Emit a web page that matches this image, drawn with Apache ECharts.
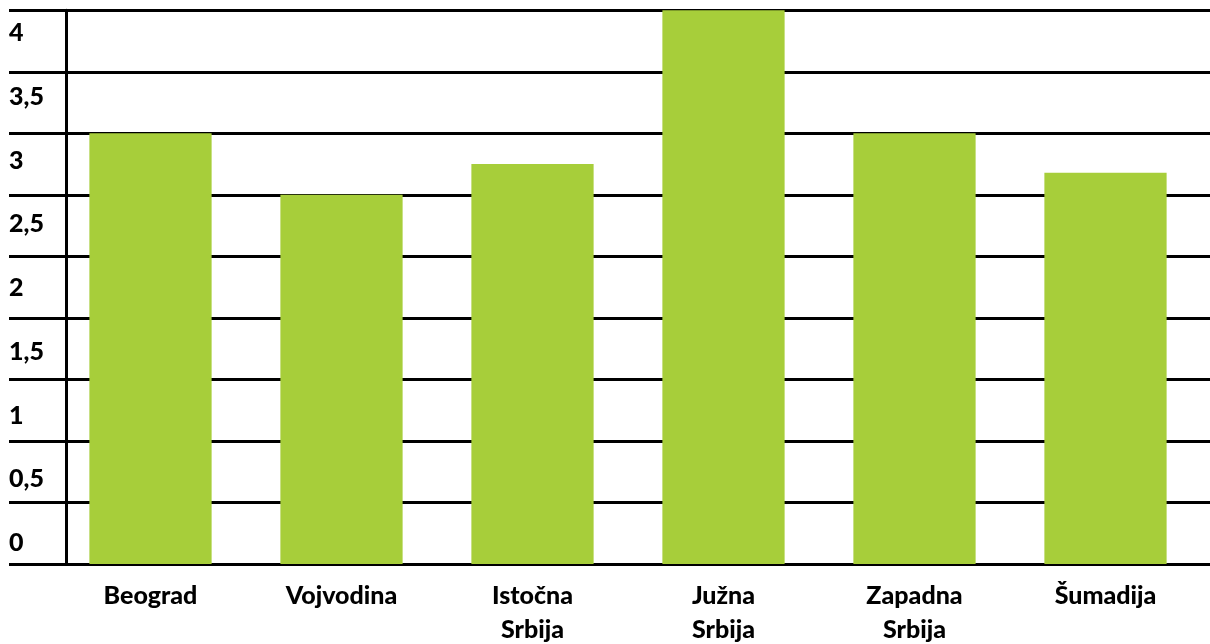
<!DOCTYPE html>
<html>
<head>
<meta charset="utf-8" />
<script src="https://cdn.jsdelivr.net/npm/echarts@6/dist/echarts.min.js"></script>
<style>
html,body{margin:0;padding:0;background:#fff;}
#main{width:1210px;height:644px;}
</style>
</head>
<body>
<div id="main"></div>
<script>
// podaci sa slike
var regions = ['Beograd', 'Vojvodina', 'Istočna\nSrbija', 'Južna\nSrbija', 'Zapadna\nSrbija', 'Šumadija'];
var values = [3.5, 3.0, 3.25, 4.5, 3.5, 3.18];
var yTickLabels = ['0', '0,5', '1', '1,5', '2', '2,5', '3', '3,5', '4'];

var font = 'Lato, "Open Sans", sans-serif';
var chart = echarts.init(document.getElementById('main'));

chart.setOption({
  animation: false,
  grid: [
    // stubici
    {left: 55, right: 9, top: 10.3, bottom: 80, outerBoundsMode: 'none'},
    // linije mreze preko cele sirine
    {left: 9, right: 0, top: 10.3, bottom: 80, outerBoundsMode: 'none'},
    // oznake y ose (pomerene kao na originalu)
    {left: 9, right: 0, top: 33, bottom: 101, outerBoundsMode: 'none'}
  ],
  xAxis: [
    {
      gridIndex: 0,
      type: 'category',
      data: regions,
      axisLine: {show: false},
      axisTick: {show: false},
      axisLabel: {
        color: '#000',
        fontFamily: font,
        fontWeight: 900,
        fontSize: 25,
        lineHeight: 34,
        margin: 15,
        interval: 0
      }
    },
    {gridIndex: 1, type: 'value', min: 0, max: 1, show: false},
    {gridIndex: 2, type: 'value', min: 0, max: 1, show: false}
  ],
  yAxis: [
    {
      gridIndex: 0,
      type: 'value',
      min: 0, max: 4.5, interval: 0.5,
      offset: -11.7,
      axisLine: {show: true, lineStyle: {color: '#000', width: 3}},
      axisTick: {show: false},
      axisLabel: {show: false},
      splitLine: {show: false}
    },
    {
      gridIndex: 1,
      type: 'value',
      min: 0, max: 4.5, interval: 0.5,
      axisLine: {show: false},
      axisTick: {show: false},
      axisLabel: {show: false},
      splitLine: {show: true, lineStyle: {color: '#000', width: 3}}
    },
    {
      gridIndex: 2,
      type: 'value',
      min: 0, max: 4, interval: 0.5,
      axisLine: {show: false},
      axisTick: {show: false},
      splitLine: {show: false},
      axisLabel: {
        inside: true,
        margin: 0,
        align: 'left',
        color: '#000',
        fontFamily: font,
        fontWeight: 900,
        fontSize: 25,
        formatter: function (v) {
          return yTickLabels[Math.round(v / 0.5)];
        }
      }
    }
  ],
  series: [{
    type: 'bar',
    xAxisIndex: 0,
    yAxisIndex: 0,
    data: values,
    barCategoryGap: '36%',
    itemStyle: {color: '#a7ce3a'},
    z: 5
  }]
});
</script>
</body>
</html>
